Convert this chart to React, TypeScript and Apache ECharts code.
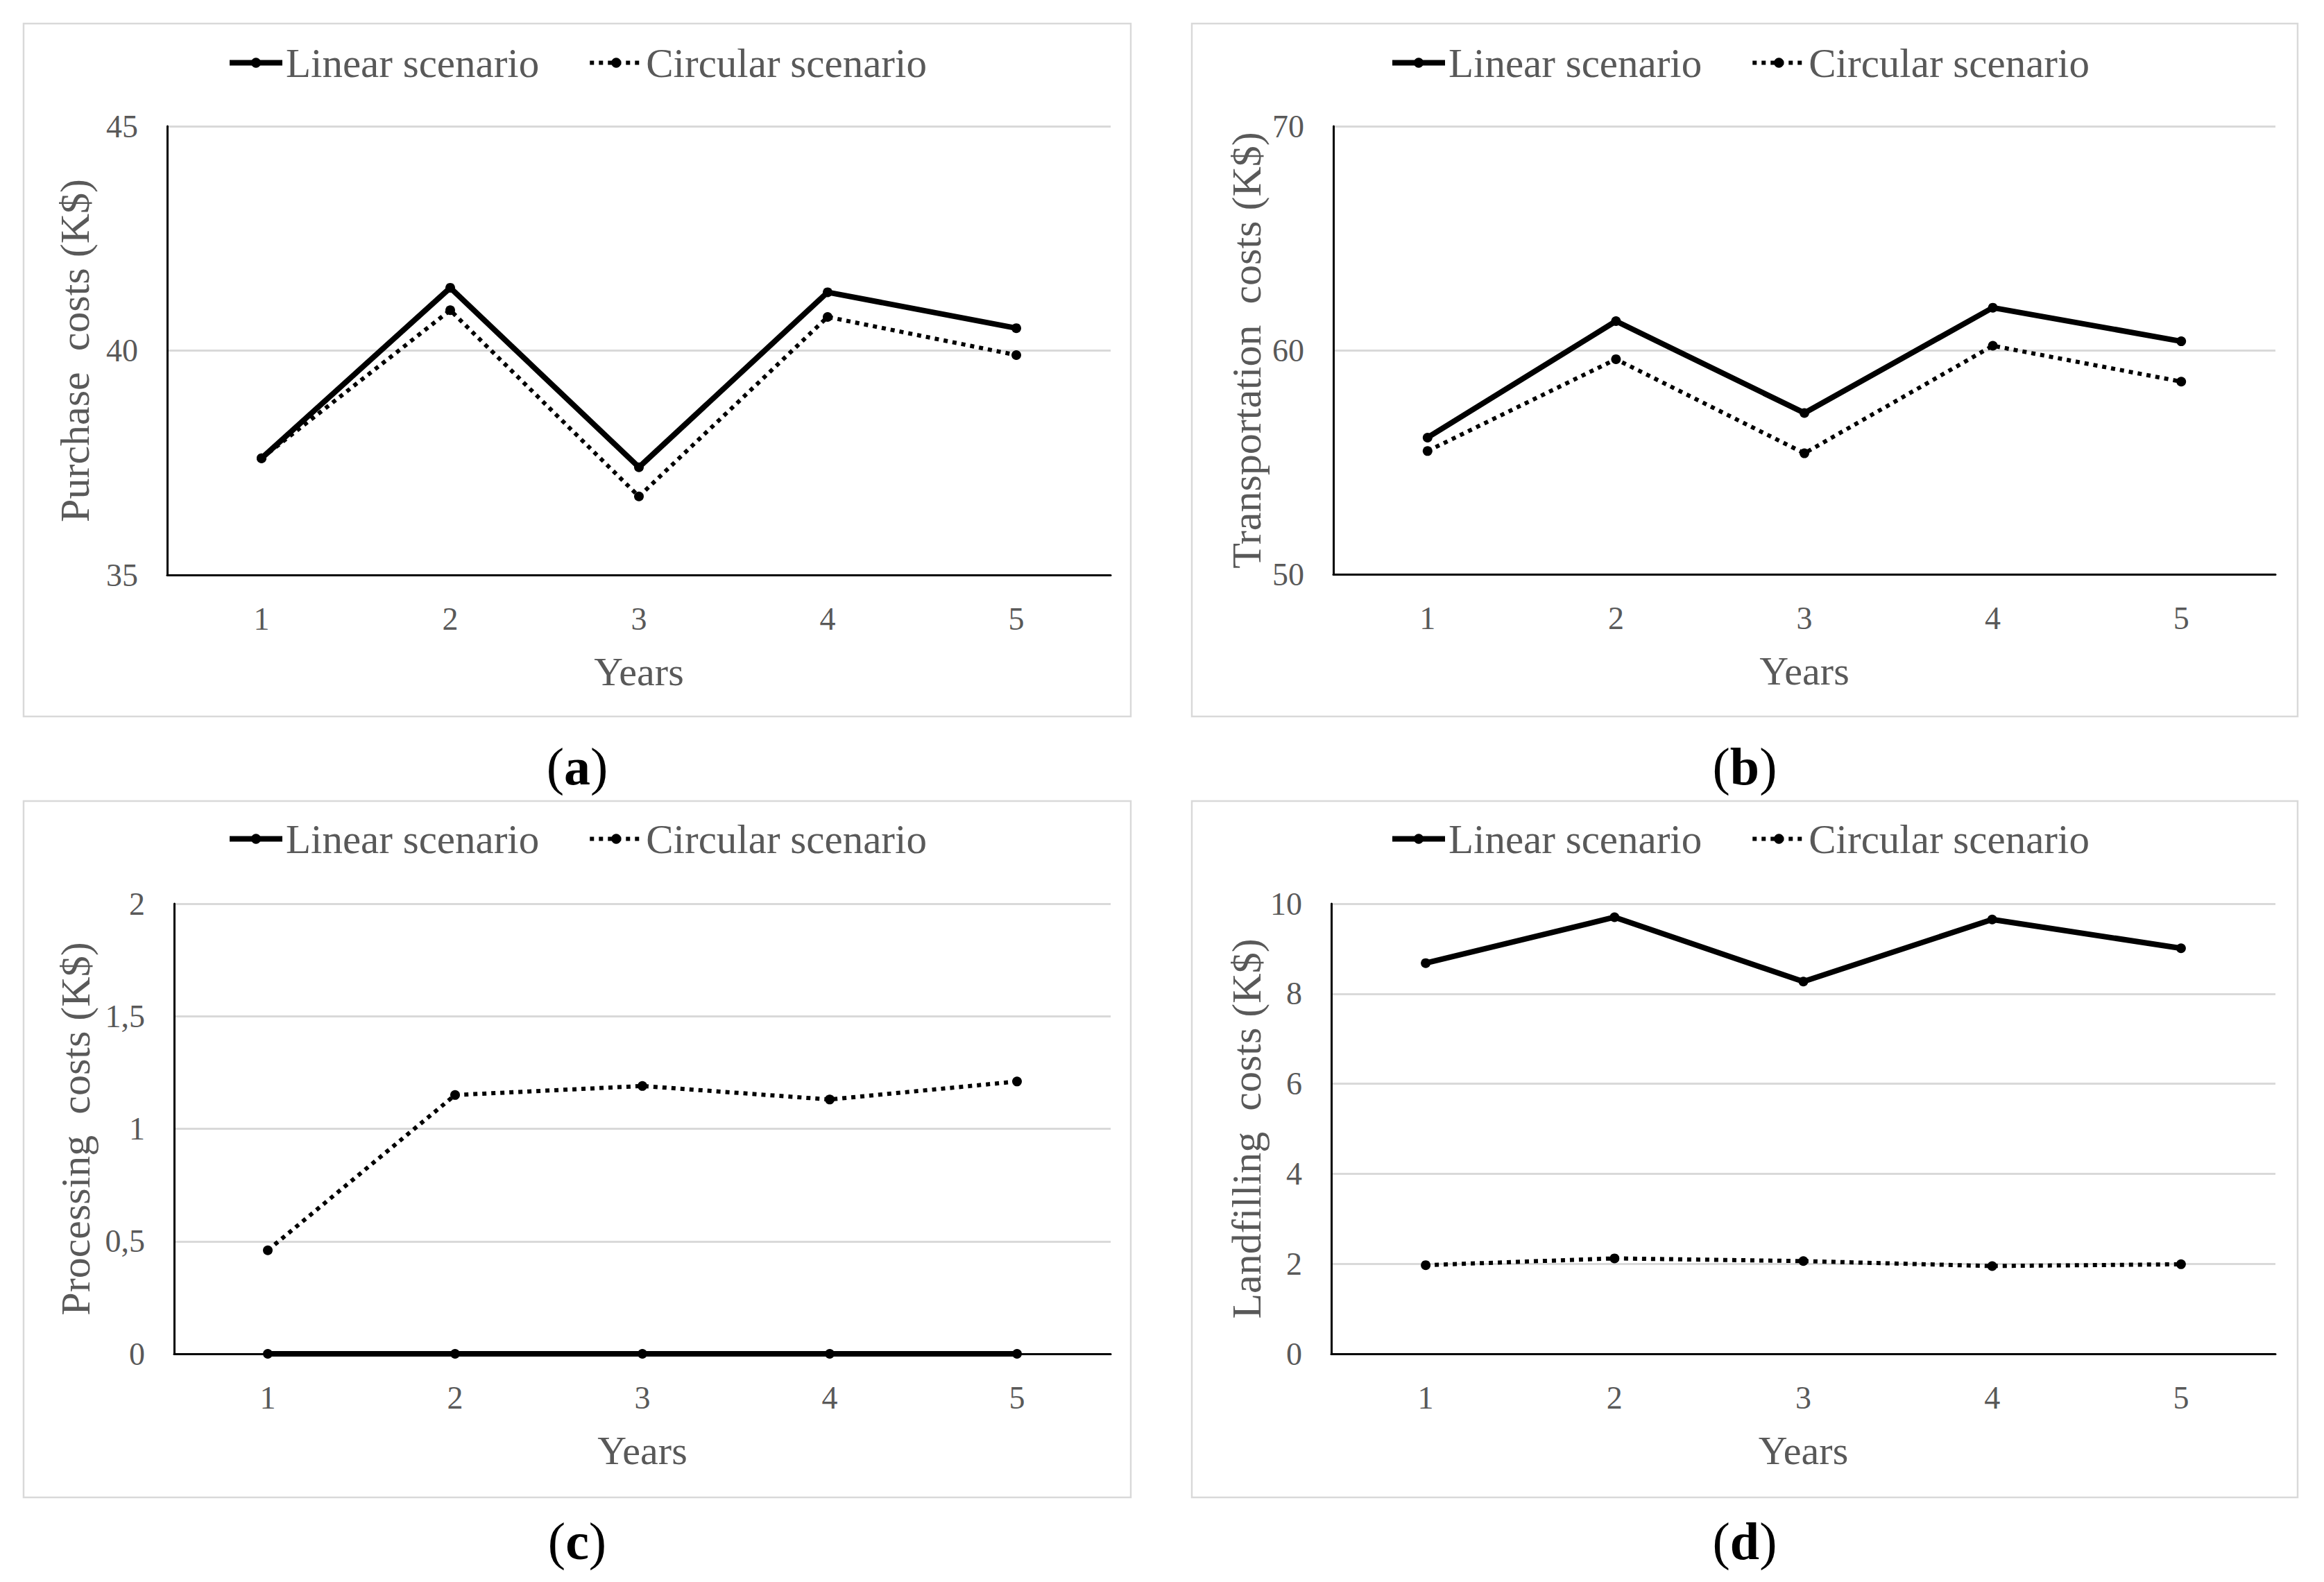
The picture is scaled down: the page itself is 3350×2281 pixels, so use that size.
import React, { useEffect, useRef } from "react";
import * as echarts from "echarts";

const years = ["1", "2", "3", "4", "5"];
const seriesNames = ["Linear scenario", "Circular scenario"];

const purchaseLinear = [37.6, 41.4, 37.4, 41.3, 40.5];
const purchaseCircular = [37.6, 40.9, 36.75, 40.75, 39.9];
const transportLinear = [56.1, 61.3, 57.2, 61.9, 60.4];
const transportCircular = [55.5, 59.6, 55.4, 60.2, 58.6];
const processingLinear = [0, 0, 0, 0, 0];
const processingCircular = [0.46, 1.15, 1.19, 1.13, 1.21];
const landfillLinear = [8.68, 9.7, 8.27, 9.65, 9.01];
const landfillCircular = [1.97, 2.12, 2.06, 1.95, 1.99];

const yTitles = [
  "Purchase  costs (K$)",
  "Transportation  costs (K$)",
  "Processing  costs (K$)",
  "Landfilling  costs (K$)",
];
const yMins = [35, 50, 0, 0];
const yMaxs = [45, 70, 2, 10];
const yIntervals = [5, 10, 0.5, 2];
const captions = ["a", "b", "c", "d"];
const xTitle = "Years";

const FONT = "Liberation Serif";
const GREY = "#595959";

const panels = [
  { box: [34, 34, 1596, 999], grid: [241, 182, 1360, 647], legendLeft: 322, legendTop: 56, nameGap: 103, cap: [832, 1105] },
  { box: [1718, 34, 1594, 999], grid: [1922, 182, 1358, 646], legendLeft: 1998, legendTop: 56, nameGap: 95, cap: [2515, 1105] },
  { box: [34, 1155, 1596, 1004], grid: [251, 1303, 1350, 649], legendLeft: 322, legendTop: 1175, nameGap: 112, cap: [832, 2222] },
  { box: [1718, 1155, 1594, 1004], grid: [1919, 1303, 1361, 649], legendLeft: 1998, legendTop: 1175, nameGap: 92, cap: [2515, 2222] },
];

const dataSets = [
  [purchaseLinear, purchaseCircular],
  [transportLinear, transportCircular],
  [processingLinear, processingCircular],
  [landfillLinear, landfillCircular],
];

export default function App() {
  const ref = useRef<HTMLDivElement>(null);
  useEffect(() => {
    if (!ref.current) return;
    const chart = echarts.init(ref.current, null, { renderer: "svg" });
    const grids: any[] = [];
    const xAxes: any[] = [];
    const yAxes: any[] = [];
    const legends: any[] = [];
    const series: any[] = [];
    const graphics: any[] = [];
    panels.forEach((p, i) => {
      grids.push({ left: p.grid[0], top: p.grid[1], width: p.grid[2], height: p.grid[3], containLabel: false });
      xAxes.push({
        type: "category",
        gridIndex: i,
        data: years,
        boundaryGap: true,
        axisTick: { show: false },
        axisLine: { lineStyle: { color: "#000", width: 3 } },
        axisLabel: { color: GREY, fontSize: 46, fontFamily: FONT, margin: 40 },
        name: xTitle,
        nameLocation: "middle",
        nameGap: 110,
        nameTextStyle: { color: GREY, fontSize: 58, fontFamily: FONT },
      });
      yAxes.push({
        type: "value",
        gridIndex: i,
        min: yMins[i],
        max: yMaxs[i],
        interval: yIntervals[i],
        axisTick: { show: false },
        axisLine: { show: true, lineStyle: { color: "#000", width: 3 } },
        splitLine: { lineStyle: { color: "#d9d9d9", width: 3 } },
        axisLabel: {
          color: GREY,
          fontSize: 46,
          fontFamily: FONT,
          margin: 42,
          formatter: (v: number) => String(v).replace(".", ","),
        },
        name: yTitles[i],
        nameLocation: "middle",
        nameGap: p.nameGap,
        nameTextStyle: { color: GREY, fontSize: 60, fontFamily: FONT },
      });
      legends.push({
        left: p.legendLeft,
        top: p.legendTop,
        data: seriesNames,
        itemWidth: 76,
        itemHeight: 18,
        itemGap: 70,
        lineStyle: { width: "inherit", type: "inherit" },
        textStyle: { color: GREY, fontSize: 59, fontFamily: FONT },
      });
      const [lin, circ] = dataSets[i];
      series.push({
        name: seriesNames[0],
        type: "line",
        xAxisIndex: i,
        yAxisIndex: i,
        data: lin,
        symbol: "circle",
        symbolSize: 14,
        itemStyle: { color: "#000" },
        lineStyle: { color: "#000", width: 8 },
      });
      series.push({
        name: seriesNames[1],
        type: "line",
        xAxisIndex: i,
        yAxisIndex: i,
        data: circ,
        symbol: "circle",
        symbolSize: 14,
        itemStyle: { color: "#000" },
        lineStyle: { color: "#000", width: 6, type: [6, 7] },
      });
      graphics.push({
        type: "rect",
        shape: { x: p.box[0], y: p.box[1], width: p.box[2], height: p.box[3] },
        style: { fill: "none", stroke: "#d9d9d9", lineWidth: 2.5 },
        z: -1,
      });
      graphics.push({
        type: "text",
        x: p.cap[0],
        y: p.cap[1],
        style: {
          text: "({b|" + captions[i] + "})",
          fill: "#000",
          fontSize: 76,
          fontFamily: FONT,
          align: "center",
          verticalAlign: "middle",
          rich: { b: { fontWeight: "bold", fontSize: 76, fontFamily: FONT, fill: "#000" } },
        },
      });
    });
    chart.setOption({
      animation: false,
      backgroundColor: "#fff",
      grid: grids,
      xAxis: xAxes,
      yAxis: yAxes,
      legend: legends,
      series,
      graphic: graphics,
    });
    return () => chart.dispose();
  }, []);
  return <div ref={ref} style={{ position: "absolute", left: 0, top: 0, width: 3350, height: 2281 }} />;
}
